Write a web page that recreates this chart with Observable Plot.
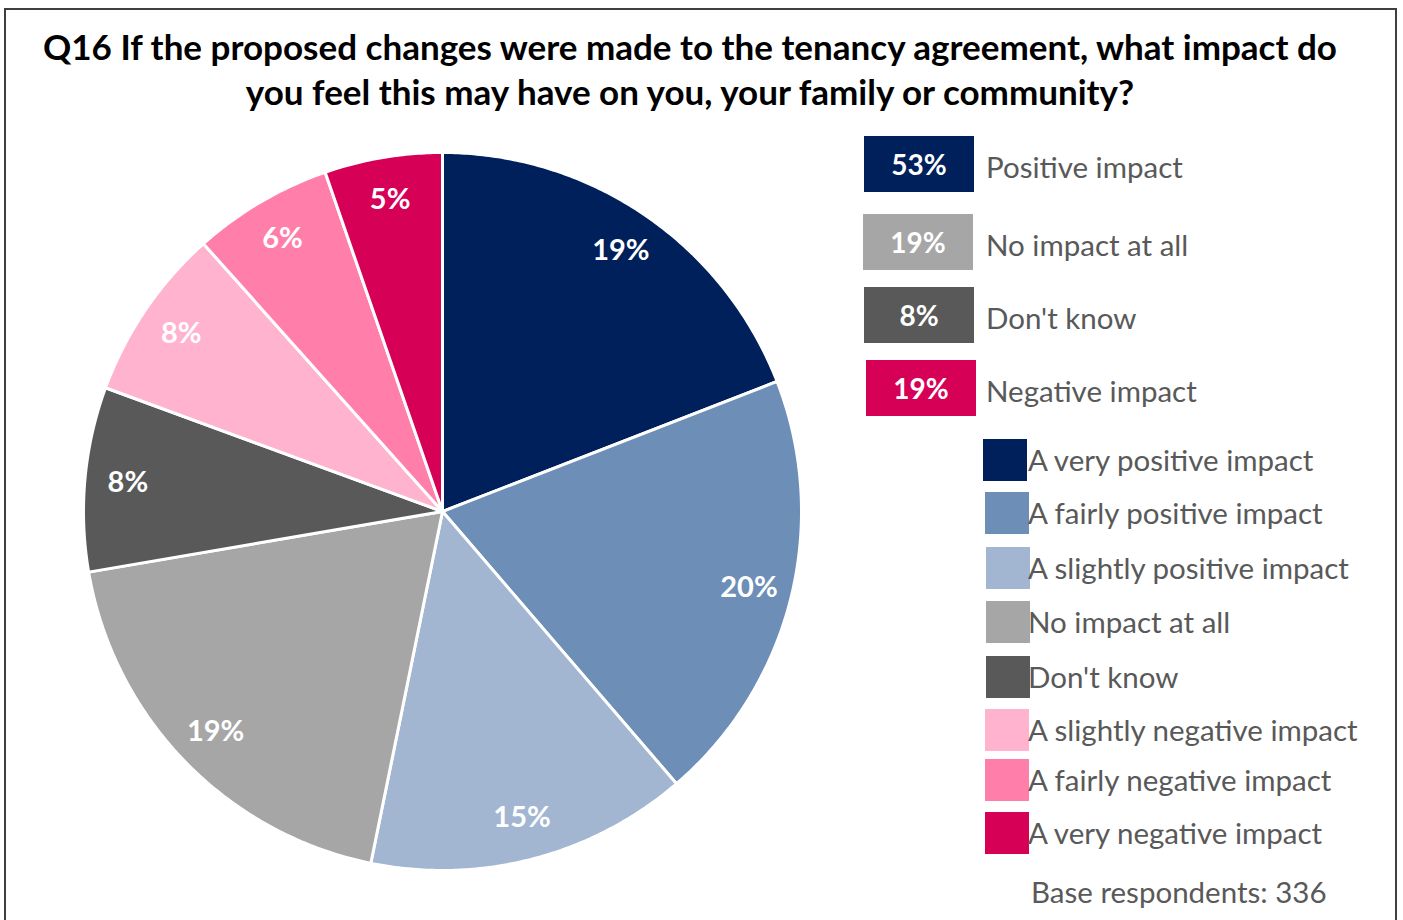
<!DOCTYPE html>
<html>
<head>
<meta charset="utf-8">
<script src="https://cdn.jsdelivr.net/npm/d3@7"></script>
<script src="https://cdn.jsdelivr.net/npm/@observablehq/plot@0.6"></script>
<style>
  html, body { margin: 0; padding: 0; background: #fff; width: 1403px; height: 920px; overflow: hidden; }
  body { position: relative; font-family: Lato, "Open Sans", sans-serif; }
  #frame { position: absolute; left: 4px; top: 8px; width: 1393px; height: 930px; border: 2px solid #3f3f3f; box-sizing: border-box; }
  #title { position: absolute; left: 0; width: 1380px; top: 24px; text-align: center; font-weight: 700; font-size: 35px; line-height: 45px; color: #000; white-space: nowrap; }
  #pie { position: absolute; left: 82px; top: 151px; }
  .sumbox { position: absolute; width: 110px; height: 56px; color: #fff; font-weight: 700; font-size: 28px; line-height: 56px; text-align: center; }
  .sumlab { position: absolute; left: 986px; font-size: 29.5px; color: #595959; line-height: 56px; white-space: nowrap; }
  .sw { position: absolute; width: 44px; height: 42px; }
  .itlab { position: absolute; left: 1028px; font-size: 29.5px; color: #595959; line-height: 42px; white-space: nowrap; }
  #base { position: absolute; left: 1031px; top: 872px; font-size: 29.5px; color: #595959; line-height: 40px; white-space: nowrap; }
</style>
</head>
<body>
<div id="frame"></div>
<div id="title">Q16 If the proposed changes were made to the tenancy agreement, what impact do<br>you feel this may have on you, your family or community?</div>
<div id="pie"></div>
<div id="legend"></div>
<div id="base">Base respondents: 336</div>
<script>
// Data
const categories = [
  "A very positive impact",
  "A fairly positive impact",
  "A slightly positive impact",
  "No impact at all",
  "Don't know",
  "A slightly negative impact",
  "A fairly negative impact",
  "A very negative impact"
];
const values = [19.1, 19.6, 14.5, 19.1, 8.3, 7.8, 6.3, 5.3];
const labels = ["19%", "20%", "15%", "19%", "8%", "8%", "6%", "5%"];
const colors = ["#00205b", "#6d8eb7", "#a2b6d2", "#a6a6a6", "#595959", "#ffb3ce", "#ff7faa", "#d60056"];

const summaryLabels = ["Positive impact", "No impact at all", "Don't know", "Negative impact"];
const summaryValues = ["53%", "19%", "8%", "19%"];
const summaryColors = ["#00205b", "#a6a6a6", "#595959", "#d60056"];

// Build wedge polygons from d3.pie angles
const arcs = d3.pie().sort(null).value(d => d)(values);
const wedgePts = [];
const labelPts = [];
arcs.forEach((a, i) => {
  const cat = categories[i];
  wedgePts.push({cat, x: 0, y: 0});
  const n = Math.max(2, Math.ceil((a.endAngle - a.startAngle) / (Math.PI / 360)));
  for (let k = 0; k <= n; k++) {
    const t = a.startAngle + (a.endAngle - a.startAngle) * k / n;
    wedgePts.push({cat, x: Math.sin(t), y: Math.cos(t)});
  }
  wedgePts.push({cat, x: 0, y: 0});
  const m = (a.startAngle + a.endAngle) / 2;
  labelPts.push({cat, label: labels[i], x: 0.88 * Math.sin(m), y: 0.88 * Math.cos(m)});
});

const chart = Plot.plot({
  width: 720,
  height: 720,
  margin: 1,
  x: {domain: [-1, 1], axis: null},
  y: {domain: [-1, 1], axis: null},
  color: {domain: categories, range: colors},
  style: {background: "transparent", overflow: "visible"},
  marks: [
    Plot.line(wedgePts, {x: "x", y: "y", z: "cat", fill: "cat", stroke: "#ffffff", strokeWidth: 3, strokeLinejoin: "round", curve: "linear"}),
    Plot.text(labelPts, {x: "x", y: "y", text: "label", fill: "#ffffff", fontSize: 29, fontWeight: 700, fontFamily: "Lato, 'Open Sans', sans-serif"})
  ]
});
document.getElementById("pie").appendChild(chart);

// Legends
const leg = document.getElementById("legend");
const sumTops = [136, 214, 287, 360];
const sumLefts = [864, 863, 864, 866];
summaryLabels.forEach((l, i) => {
  const b = document.createElement("div");
  b.className = "sumbox";
  b.style.left = sumLefts[i] + "px";
  b.style.top = sumTops[i] + "px";
  b.style.background = summaryColors[i];
  b.textContent = summaryValues[i];
  leg.appendChild(b);
  const t = document.createElement("div");
  t.className = "sumlab";
  t.style.top = (sumTops[i] + 3) + "px";
  t.textContent = l;
  leg.appendChild(t);
});
const itemTops = [439, 492, 547, 601, 656, 709, 759, 812];
const itemLefts = [983, 985, 986, 986, 986, 985, 985, 985];
categories.forEach((c, i) => {
  const s = document.createElement("div");
  s.className = "sw";
  s.style.left = itemLefts[i] + "px";
  s.style.top = itemTops[i] + "px";
  s.style.background = colors[i];
  leg.appendChild(s);
  const t = document.createElement("div");
  t.className = "itlab";
  t.style.top = itemTops[i] + "px";
  t.textContent = c;
  leg.appendChild(t);
});
</script>
</body>
</html>
